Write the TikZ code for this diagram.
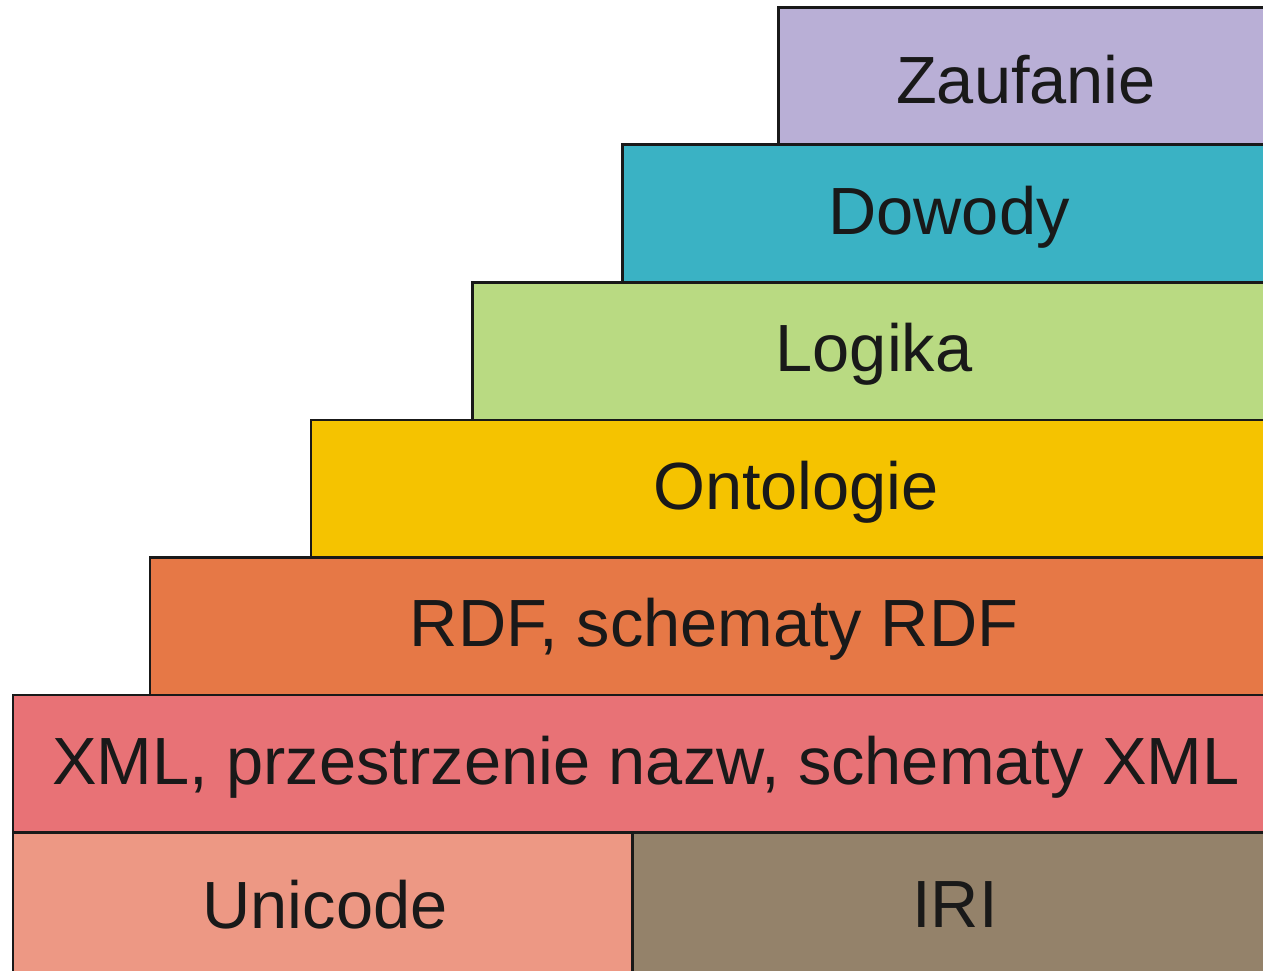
\documentclass[tikz,border=0pt]{standalone}
\usepackage{fontspec}
\setmainfont{Liberation Sans}
\definecolor{zaufC}{HTML}{B9AFD6}
\definecolor{dowoC}{HTML}{3AB2C4}
\definecolor{logiC}{HTML}{B9DA82}
\definecolor{ontoC}{HTML}{F5C300}
\definecolor{rdfC}{HTML}{E67846}
\definecolor{xmlC}{HTML}{E87276}
\definecolor{uniC}{HTML}{ED9884}
\definecolor{iriC}{HTML}{94826A}
\begin{document}
\begin{tikzpicture}[x=0.02cm, y=0.02cm,
    layer/.style={draw=black!90, line width=1.7pt},
    label/.style={font=\fontsize{38}{45}\selectfont, text=black!90, inner sep=0pt}]
      \def\lr{1275}
      \def\lh{137.5}
      \useasboundingbox (0,0) rectangle (1263,970);
      \clip (0,0) rectangle (1263,970);
      % Couche 1
      \draw[layer, fill=uniC] (13,-10) rectangle (632,\lh);
      \node[label] (unicode) at (325,0.5*\lh-3) {Unicode};
      \draw[layer, fill=iriC] (632,-10) rectangle (\lr,\lh);
      \node[label] (iri) at (955,0.5*\lh-3) {IRI};
      % Couche 2
      \draw[layer, fill=xmlC] (13,\lh) rectangle (\lr,2*\lh);
      \node[label] (xml) at (646,1.5*\lh-3) {XML, przestrzenie nazw, schematy XML};
      % Couche 3
      \draw[layer, fill=rdfC] (150,2*\lh) rectangle (\lr,3*\lh);
      \node[label] (rdf) at (714,2.5*\lh-3) {RDF, schematy RDF};
      % Couche 4
      \draw[layer, fill=ontoC] (311,3*\lh) rectangle (\lr,4*\lh);
      \node[label] (onto) at (796,3.5*\lh-3) {Ontologie};
      % Couche 5
      \draw[layer, fill=logiC] (472,4*\lh) rectangle (\lr,5*\lh);
      \node[label] (logika) at (874,4.5*\lh-3) {Logika};
      % Couche 6
      \draw[layer, fill=dowoC] (622,5*\lh) rectangle (\lr,6*\lh);
      \node[label] (dowody) at (949,5.5*\lh-3) {Dowody};
      % Couche 7
      \draw[layer, fill=zaufC] (778,6*\lh) rectangle (\lr,962);
      \node[label] (zaufanie) at (1026,6.5*\lh-3) {Zaufanie};
\end{tikzpicture}
\end{document}
